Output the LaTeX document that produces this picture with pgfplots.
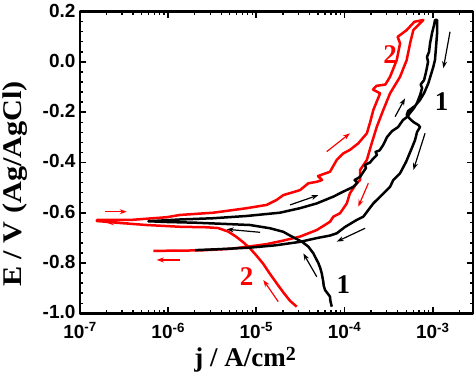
\documentclass[border=0pt]{standalone}
\usepackage{fontspec}
\setmainfont{Liberation Serif}
\setsansfont{Liberation Sans}
\usepackage{pgfplots}
\usepackage{pgfplotstable}
\pgfplotsset{compat=1.18}
\usetikzlibrary{arrows.meta}

\pgfplotstableread{
j E
7.16e-5 -0.974
6.90e-5 -0.950
6.84e-5 -0.934
6.01e-5 -0.908
5.80e-5 -0.890
5.74e-5 -0.875
5.51e-5 -0.841
5.30e-5 -0.820
5.05e-5 -0.801
4.43e-5 -0.762
3.88e-5 -0.735
3.27e-5 -0.715
2.62e-5 -0.698
2.02e-5 -0.676
1.43e-5 -0.662
8.47e-6 -0.649
4.61e-6 -0.645
2.11e-6 -0.640
9.62e-7 -0.637
5.96e-7 -0.634
1.36e-6 -0.627
3.25e-6 -0.622
7.78e-6 -0.613
1.85e-5 -0.600
3.13e-5 -0.582
4.84e-5 -0.563
7.46e-5 -0.536
9.68e-5 -0.516
1.26e-4 -0.497
1.40e-4 -0.480
1.30e-4 -0.470
1.50e-4 -0.457
1.75e-4 -0.422
1.70e-4 -0.410
1.95e-4 -0.400
2.05e-4 -0.390
2.33e-4 -0.370
2.25e-4 -0.358
2.50e-4 -0.352
2.74e-4 -0.331
3.03e-4 -0.299
3.46e-4 -0.275
4.05e-4 -0.259
4.60e-4 -0.231
5.12e-4 -0.219
5.53e-4 -0.203
6.14e-4 -0.183
6.64e-4 -0.163
7.18e-4 -0.132
7.57e-4 -0.104
7.30e-4 -0.090
7.98e-4 -0.072
8.39e-4 -0.040
8.85e-4 0.000
8.60e-4 0.020
9.08e-4 0.040
9.33e-4 0.075
9.82e-4 0.115
1.035e-3 0.147
1.06e-3 0.167
1.12e-3 0.167
1.12e-3 0.114
1.09e-3 0.060
1.06e-3 0.008
1.016e-3 -0.019
8.91e-4 -0.085
7.98e-4 -0.124
7.18e-4 -0.151
6.30e-4 -0.175
5.26e-4 -0.195
5.07e-4 -0.211
5.53e-4 -0.227
6.03e-4 -0.239
6.87e-4 -0.251
7.18e-4 -0.259
6.64e-4 -0.279
6.30e-4 -0.311
5.68e-4 -0.350
4.98e-4 -0.398
4.26e-4 -0.443
3.57e-4 -0.470
3.28e-4 -0.497
2.42e-4 -0.543
2.12e-4 -0.563
1.63e-4 -0.616
1.37e-4 -0.629
1.01e-4 -0.657
8.15e-5 -0.682
6.84e-5 -0.691
4.84e-5 -0.701
3.13e-5 -0.716
1.63e-5 -0.730
8.47e-6 -0.739
3.87e-6 -0.745
2.01e-6 -0.749
}\blackdata

\pgfplotstableread{
j E
2.87e-5 -0.974
2.41e-5 -0.951
2.00e-5 -0.915
1.70e-5 -0.881
1.43e-5 -0.844
1.20e-5 -0.804
1.01e-5 -0.772
8.47e-6 -0.742
7.06e-6 -0.717
5.87e-6 -0.695
4.78e-6 -0.675
3.67e-6 -0.661
2.74e-6 -0.658
1.36e-6 -0.656
5.70e-7 -0.649
2.84e-7 -0.641
1.55e-7 -0.633
1.55e-7 -0.629
3.69e-7 -0.629
9.62e-7 -0.618
1.36e-6 -0.609
3.25e-6 -0.600
7.78e-6 -0.582
1.31e-5 -0.569
1.70e-5 -0.549
2.02e-5 -0.530
3.13e-5 -0.510
3.88e-5 -0.483
4.84e-5 -0.477
5.56e-5 -0.470
5.00e-5 -0.454
6.84e-5 -0.437
8.15e-5 -0.390
9.68e-5 -0.364
1.15e-4 -0.350
1.43e-4 -0.324
1.79e-4 -0.284
1.95e-4 -0.240
2.12e-4 -0.191
2.53e-4 -0.125
2.10e-4 -0.110
2.30e-4 -0.095
2.90e-4 -0.090
3.28e-4 -0.059
3.91e-4 0.008
4.26e-4 0.074
4.00e-4 0.100
5.07e-4 0.127
6.20e-4 0.160
7.83e-4 0.167
6.03e-4 0.127
5.53e-4 0.074
5.07e-4 0.008
4.26e-4 -0.059
3.28e-4 -0.125
2.75e-4 -0.191
2.32e-4 -0.258
2.03e-4 -0.324
1.79e-4 -0.390
1.50e-4 -0.430
1.50e-4 -0.470
1.37e-4 -0.483
1.15e-4 -0.523
1.06e-4 -0.563
8.89e-5 -0.602
7.46e-5 -0.616
6.84e-5 -0.636
4.84e-5 -0.669
3.13e-5 -0.695
2.02e-5 -0.711
1.31e-5 -0.725
8.47e-6 -0.734
5.02e-6 -0.744
2.30e-6 -0.750
6.78e-7 -0.752
}\reddata

\begin{document}
\begin{tikzpicture}
\begin{axis}[name=ax, scale only axis, width=393pt, height=301.5pt,
  xmode=log, xmin=1e-7, xmax=2.86e-3, ymin=-1.0, ymax=0.2,
  xtick={1e-7,1e-6,1e-5,1e-4,1e-3},
  xticklabels={10\textsuperscript{-7},10\textsuperscript{-6},10\textsuperscript{-5},10\textsuperscript{-4},10\textsuperscript{-3}},
  minor xtick={2e-7,3e-7,4e-7,5e-7,6e-7,7e-7,8e-7,9e-7,2e-6,3e-6,4e-6,5e-6,6e-6,7e-6,8e-6,9e-6,2e-5,3e-5,4e-5,5e-5,6e-5,7e-5,8e-5,9e-5,2e-4,3e-4,4e-4,5e-4,6e-4,7e-4,8e-4,9e-4,2e-3},
  ytick={-1.0,-0.8,-0.6,-0.4,-0.2,0.0,0.2},
  yticklabels={-1.0,-0.8,-0.6,-0.4,-0.2,0.0,0.2},
  minor y tick num=4,
  tick align=inside,
  major tick length=6pt, minor tick length=3pt,
  every major tick/.append style={line width=1.8pt, black},
  every minor tick/.append style={line width=1.3pt, black},
  axis line style={line width=2.8pt},
  ticklabel style={font=\fontsize{19}{19}\selectfont\sffamily\bfseries},
  xticklabel style={yshift=-6pt},
  yticklabel style={xshift=-1pt, yshift=1pt},
  xlabel={j / A/cm\raisebox{6pt}{\fontsize{20}{20}\selectfont 2}},
  xlabel style={font=\fontsize{27}{27}\selectfont\bfseries, at={(axis description cs:0.42,-0.1775)}, anchor=base},
  ylabel={\scalebox{1.12}[1]{E / V (Ag/AgCl)}},
  ylabel style={font=\fontsize{27}{27}\selectfont\bfseries, at={(axis description cs:-0.148,0.4285)}, anchor=base},
  line join=round,
]
\addplot[red, line width=2.5pt, no markers] table[x=j, y=E] {\reddata};
\addplot[black, line width=2.5pt, no markers] table[x=j, y=E] {\blackdata};

\node[font=\fontsize{27}{27}\selectfont\bfseries] at (axis cs:1.26e-3,-0.158) {1};
\node[font=\fontsize{27}{27}\selectfont\bfseries] at (axis cs:9.68e-5,-0.888) {1};
\node[font=\fontsize{27}{27}\selectfont\bfseries, text=red] at (axis cs:3.28e-4,0.028) {2};
\node[font=\fontsize{27}{27}\selectfont\bfseries, text=red] at (axis cs:7.78e-6,-0.856) {2};

\begin{scope}[-{Stealth[length=7pt,width=5pt]}, line width=1.2pt]
\draw[black] (axis cs:1.57e-3,0.120) -- (axis cs:1.32e-3,-0.025);
\draw[black] (axis cs:8.18e-4,-0.284) -- (axis cs:6.03e-4,-0.430);
\draw[black] (axis cs:1.71e-4,-0.662) -- (axis cs:8.15e-5,-0.715);
\draw[black] (axis cs:1.10e-5,-0.678) -- (axis cs:4.61e-6,-0.666);
\draw[black] (axis cs:4.84e-5,-0.855) -- (axis cs:3.41e-5,-0.762);
\draw[black] (axis cs:2.41e-5,-0.569) -- (axis cs:5.05e-5,-0.530);
\draw[black] (axis cs:3.74e-4,-0.218) -- (axis cs:4.85e-4,-0.145);
\draw[red] (axis cs:1.92e-7,-0.596) -- (axis cs:3.39e-7,-0.596);
\draw[red] (axis cs:3.53e-7,-0.640) -- (axis cs:2.01e-7,-0.640);
\draw[red] (axis cs:1.36e-6,-0.788) -- (axis cs:7.41e-7,-0.788);
\draw[red] (axis cs:1.77e-5,-0.954) -- (axis cs:1.20e-5,-0.868);
\draw[red] (axis cs:6.28e-5,-0.357) -- (axis cs:1.15e-4,-0.284);
\draw[red] (axis cs:1.86e-4,-0.483) -- (axis cs:1.43e-4,-0.576);
\end{scope}
\end{axis}
\pgfresetboundingbox
\path ([xshift=-80pt,yshift=-61.8pt]ax.south west) rectangle ([xshift=1pt,yshift=11.7pt]ax.north east);
\end{tikzpicture}
\end{document}
